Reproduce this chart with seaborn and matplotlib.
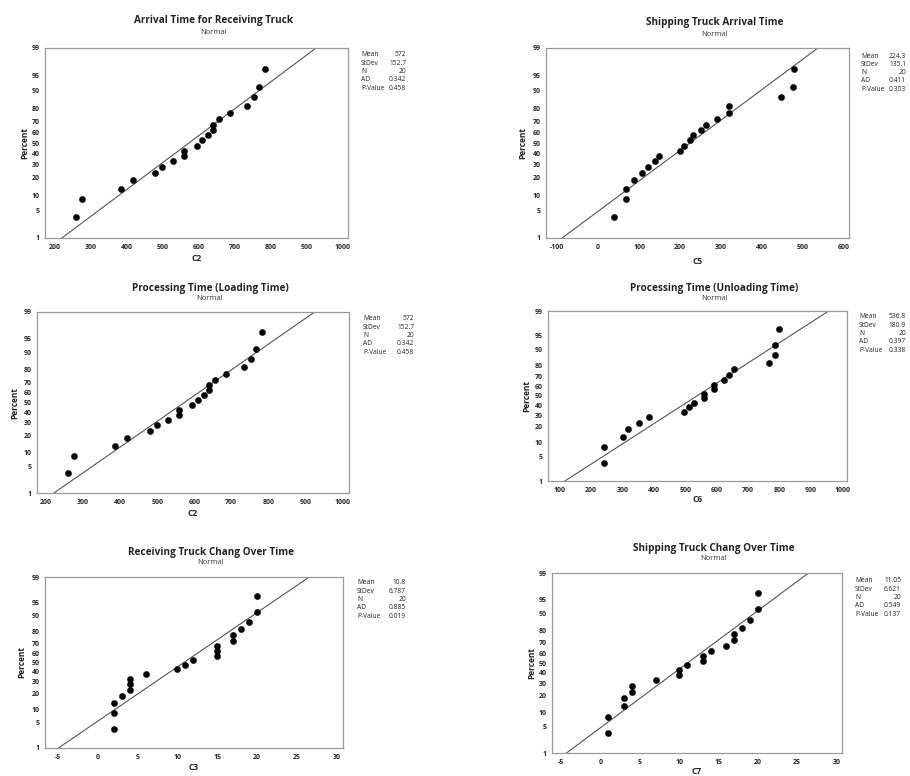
import numpy as np
import pandas as pd
import matplotlib
matplotlib.use("Agg")
import matplotlib.pyplot as plt
import seaborn as sns
from statistics import NormalDist

# ---------------- data ----------------
c2_receiving = [260, 276, 386, 419, 480, 499, 529, 560, 560, 594,
                609, 625, 641, 641, 657, 686, 734, 753, 768, 784]
c5_shipping = [38, 69, 69, 87, 107, 121, 138, 149, 201, 209,
               223, 231, 250, 264, 291, 319, 319, 447, 476, 477]
c2_loading = [260, 276, 386, 419, 480, 499, 529, 560, 560, 594,
              609, 625, 641, 641, 657, 686, 734, 753, 768, 784]
c6_unloading = [242, 242, 303, 319, 352, 384, 495, 513, 527, 560,
                560, 592, 592, 624, 639, 656, 766, 785, 785, 798]
c3_recv_change = [2, 2, 2, 3, 4, 4, 4, 6, 10, 11,
                  12, 15, 15, 15, 17, 17, 18, 19, 20, 20]
c7_ship_change = [1, 1, 3, 3, 4, 4, 7, 10, 10, 11,
                  13, 13, 14, 16, 17, 17, 18, 19, 20, 20]

titles = ["Arrival Time for Receiving Truck", "Shipping Truck Arrival Time",
          "Processing Time (Loading Time)", "Processing Time (Unloading Time)",
          "Receiving Truck Chang Over Time", "Shipping Truck Chang Over Time"]
xlabels = ["C2", "C5", "C2", "C6", "C3", "C7"]
stat_names = ["Mean", "StDev", "N", "AD", "P-Value"]
stats_p1 = ["572", "152.7", "20", "0.342", "0.458"]
stats_p2 = ["224.3", "135.1", "20", "0.411", "0.303"]
stats_p3 = ["572", "152.7", "20", "0.342", "0.458"]
stats_p4 = ["536.8", "180.9", "20", "0.397", "0.338"]
stats_p5 = ["10.8", "6.787", "20", "0.885", "0.019"]
stats_p6 = ["11.05", "6.621", "20", "0.549", "0.137"]
percent_ticks = [1, 5, 10, 20, 30, 40, 50, 60, 70, 80, 90, 95, 99]
xticks_p1 = list(range(200, 1001, 100))
xticks_p2 = list(range(-100, 601, 100))
xticks_p4 = list(range(100, 1001, 100))
xticks_p5 = list(range(-5, 31, 5))

# ---------------- layout (pixels) ----------------
W, H = 910, 776
nd = NormalDist()

panels = [
    dict(data=c2_receiving, stats=stats_p1, xticks=xticks_p1, xlim=(174, 1014),
         rect=(45, 48, 348, 238), ty=21, ny=33, xly=259, yl=25, sx=361, sv=406, sy=55),
    dict(data=c5_shipping, stats=stats_p2, xticks=xticks_p2, xlim=(-127, 612),
         rect=(546, 48, 849, 238), ty=23, ny=34, xly=261, yl=523, sx=861, sv=906, sy=56),
    dict(data=c2_loading, stats=stats_p3, xticks=xticks_p1, xlim=(175, 1018),
         rect=(37, 312, 349, 493), ty=288, ny=298, xly=513, yl=15, sx=363, sv=414, sy=319),
    dict(data=c6_unloading, stats=stats_p4, xticks=xticks_p4, xlim=(63, 1015),
         rect=(548, 311, 847, 481), ty=288, ny=298, xly=499, yl=527, sx=859, sv=906, sy=317),
    dict(data=c3_recv_change, stats=stats_p5, xticks=xticks_p5, xlim=(-6.68, 30.84),
         rect=(45, 577, 343, 748), ty=553, ny=563, xly=768, yl=22, sx=357, sv=406, sy=583),
    dict(data=c7_ship_change, stats=stats_p6, xticks=xticks_p5, xlim=(-6.19, 30.72),
         rect=(552, 573, 842, 753), ty=549, ny=559, xly=772, yl=532, sx=855, sv=901, sy=581),
]

sns.set_style("white")
plt.rcParams["font.family"] = ["Open Sans", "DejaVu Sans"]

fig = plt.figure(figsize=(W / 100, H / 100), dpi=100)
fig.patch.set_facecolor("white")

def fx(px):
    return px / W

def fy(py):
    return 1 - py / H

ylo, yhi = nd.inv_cdf(0.01), nd.inv_cdf(0.99)

for i, p in enumerate(panels):
    l, t, r, b = p["rect"]
    ax = fig.add_axes([fx(l), fy(b), (r - l) / W, (b - t) / H])
    x = np.sort(np.asarray(p["data"], dtype=float))
    n = len(x)
    ranks = np.arange(1, n + 1)
    pct = (ranks - 0.3) / (n + 0.4)
    z = np.array([nd.inv_cdf(v) for v in pct])
    df = pd.DataFrame({"x": x, "z": z})

    # fitted normal line
    mu, sd = x.mean(), x.std(ddof=1)
    zl = np.array([nd.inv_cdf(0.0005), nd.inv_cdf(0.9995)])
    line_df = pd.DataFrame({"x": mu + sd * zl, "z": zl})
    sns.lineplot(data=line_df, x="x", y="z", ax=ax, color="#555555",
                 linewidth=0.8, sort=False)
    sns.scatterplot(data=df, x="x", y="z", ax=ax, color="black", s=20,
                    edgecolor="black", linewidth=0.3, zorder=3)

    ax.set_xlim(*p["xlim"])
    ax.set_ylim(ylo, yhi)
    ax.set_yticks([nd.inv_cdf(v / 100) for v in percent_ticks])
    ax.set_yticklabels([str(v) for v in percent_ticks])
    ax.set_xticks(p["xticks"])
    ax.set_xticklabels([str(v) for v in p["xticks"]])
    ax.tick_params(axis="both", direction="out", length=2.5, width=0.6,
                   color="#333333", labelsize=5, pad=1.5)
    for lab in ax.get_xticklabels() + ax.get_yticklabels():
        lab.set_fontweight("bold")
    for sp in ax.spines.values():
        sp.set_color("#9a9a9a")
        sp.set_linewidth(0.9)
    ax.set_xlabel("")
    ax.set_ylabel("")

    cx = (l + r) / 2 + 17
    fig.text(fx(cx), fy(p["ty"]), titles[i], ha="center", va="center",
             fontsize=7.2, fontweight="bold", color="#222222")
    fig.text(fx(cx), fy(p["ny"]), "Normal", ha="center", va="center",
             fontsize=5.5, color="#333333")
    fig.text(fx((l + r) / 2), fy(p["xly"]), xlabels[i], ha="center", va="center",
             fontsize=6, fontweight="bold", color="#222222")
    fig.text(fx(p["yl"]), fy((t + b) / 2), "Percent", ha="center", va="center",
             rotation=90, fontsize=6, fontweight="bold", color="#222222")

    for k, (nm, val) in enumerate(zip(stat_names, p["stats"])):
        yy = p["sy"] + k * 8.3
        fig.text(fx(p["sx"]), fy(yy), nm, ha="left", va="center",
                 fontsize=4.8, color="#222222")
        fig.text(fx(p["sv"]), fy(yy), val, ha="right", va="center",
                 fontsize=4.8, color="#222222")

fig.savefig("out.png", dpi=100, facecolor="white")
